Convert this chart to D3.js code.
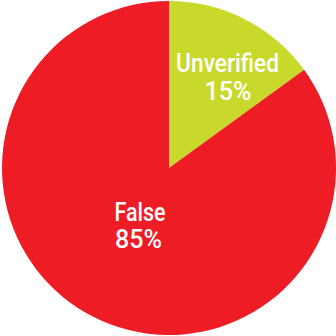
<!DOCTYPE html>
<html>
<head>
<meta charset="utf-8">
<script src="https://cdn.jsdelivr.net/npm/d3@7"></script>
<style>
  html, body { margin: 0; padding: 0; background: #fff; }
  svg { display: block; }
</style>
</head>
<body>
<svg id="chart" width="336" height="336"></svg>
<script>
// Share of claims by verdict
const categories = ["Unverified", "False"];
const values = [15, 85];
const colors = ["#C9D92C", "#EE1C25"];

const cx = 169, cy = 168, radius = 167;

const svg = d3.select("#chart");
const g = svg.append("g").attr("transform", `translate(${cx},${cy})`);

const pie = d3.pie().sort(null).value(d => d.value);
const arcs = pie(categories.map((c, i) => ({ name: c, value: values[i], color: colors[i] })));
const arc = d3.arc().innerRadius(0).outerRadius(radius);

g.selectAll("path.slice")
  .data(arcs)
  .join("path")
  .attr("class", "slice")
  .attr("d", arc)
  .attr("fill", d => d.data.color);

// Two-line labels: name above, percentage below (offsets from the centre)
const layout = [
  { name: [58.6, -95.7, 103], pct: [59, -68, 47] },
  { name: [-29, 53, 51], pct: [-30.5, 80.3, 47] }
];
const font = "Roboto, 'DejaVu Sans Condensed', sans-serif";

arcs.forEach((d, i) => {
  const lines = [
    { text: d.data.name, pos: layout[i].name },
    { text: d.data.value + "%", pos: layout[i].pct }
  ];
  g.selectAll(null)
    .data(lines)
    .join("text")
    .attr("text-anchor", "middle")
    .attr("fill", "#fff")
    .attr("font-family", font)
    .attr("font-weight", 500)
    .attr("font-size", 25.5)
    .attr("x", l => l.pos[0])
    .attr("y", l => l.pos[1])
    .attr("textLength", l => l.pos[2])
    .attr("lengthAdjust", "spacingAndGlyphs")
    .text(l => l.text);
});
</script>
</body>
</html>
